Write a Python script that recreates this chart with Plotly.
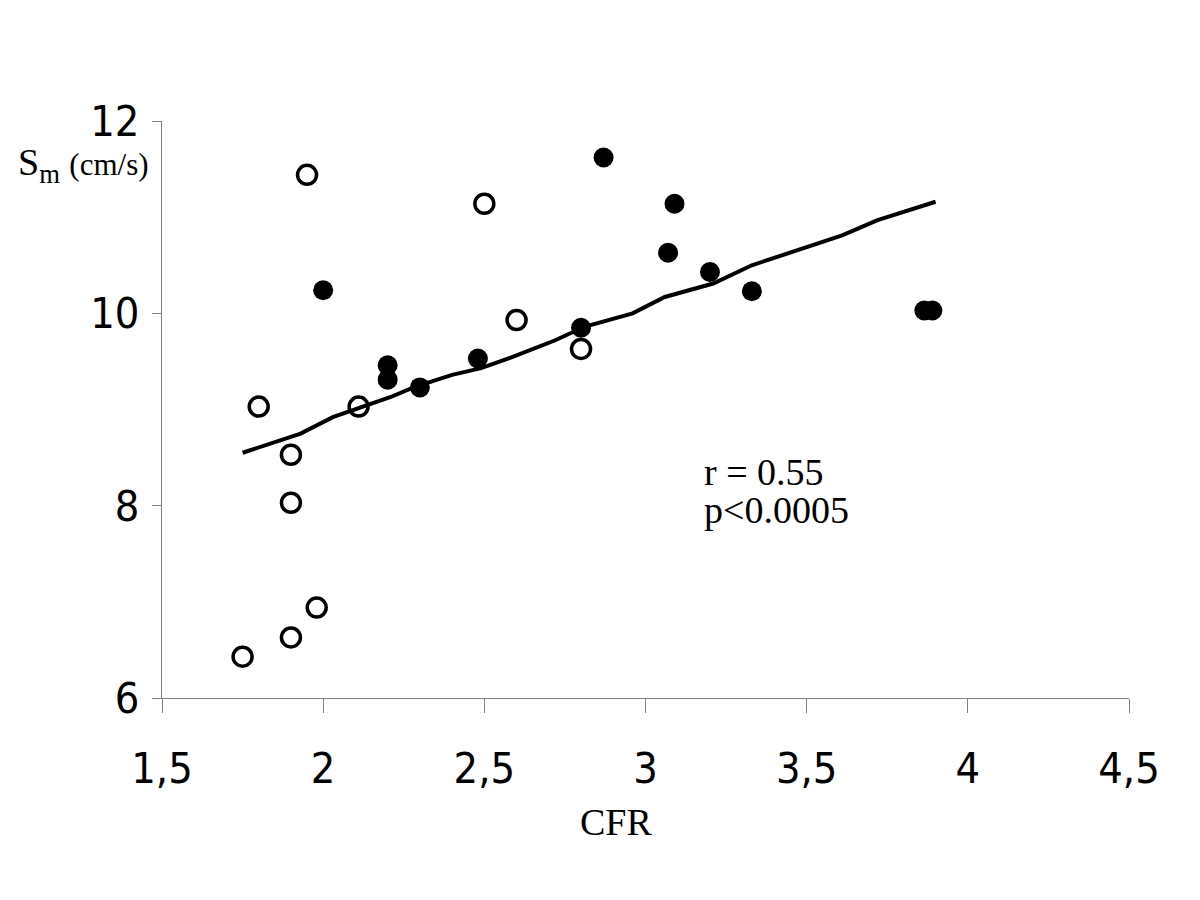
import plotly.graph_objects as go

# open circles
open_cfr = [1.75, 1.90, 1.98, 1.90, 1.90, 1.80, 2.11, 1.95, 2.50, 2.60, 2.80]
open_sm = [6.43, 6.63, 6.94, 8.03, 8.53, 9.03, 9.03, 11.44, 11.14, 9.93, 9.63]

# filled circles
filled_cfr = [2.00, 2.20, 2.20, 2.30, 2.48, 2.80, 2.87, 3.07, 3.09, 3.20, 3.33, 3.865, 3.89]
filled_sm = [10.24, 9.46, 9.31, 9.23, 9.53, 9.85, 11.62, 10.63, 11.14, 10.43, 10.23, 10.03, 10.03]

# trend line as drawn in the figure
line_cfr = [1.75, 1.93, 2.03, 2.12, 2.21, 2.28, 2.40, 2.49, 2.59, 2.72, 2.81,
            2.96, 3.06, 3.21, 3.33, 3.61, 3.72, 3.90]
line_sm = [8.55, 8.75, 8.92, 9.02, 9.13, 9.23, 9.36, 9.43, 9.55, 9.72, 9.86,
           10.00, 10.17, 10.31, 10.50, 10.81, 10.97, 11.16]

x_ticks = [1.5, 2, 2.5, 3, 3.5, 4, 4.5]
y_ticks = [6, 8, 10, 12]

serif = "Liberation Serif, Times New Roman, serif"
narrow = "DejaVu Sans Condensed, Liberation Sans Narrow, Arial Narrow, sans-serif"

fig = go.Figure()
fig.add_trace(go.Scatter(x=line_cfr, y=line_sm, mode="lines",
                         line=dict(color="black", width=4), hoverinfo="skip"))
fig.add_trace(go.Scatter(x=open_cfr, y=open_sm, mode="markers",
                         marker=dict(symbol="circle-open", size=19, color="black",
                                     line=dict(width=3.5, color="black"))))
fig.add_trace(go.Scatter(x=filled_cfr, y=filled_sm, mode="markers",
                         marker=dict(symbol="circle", size=20, color="black")))

# page body adds 8px, so margins are reduced to land the plot at the reference pixels
fig.update_layout(
    width=1200, height=900,
    margin=dict(l=154, r=79, t=113, b=210),
    plot_bgcolor="white", paper_bgcolor="white",
    showlegend=False,
    separators=", ",
    font=dict(family=narrow, color="black"),
)
fig.update_xaxes(range=[1.5, 4.5], tickvals=x_ticks, showgrid=False, zeroline=False,
                 showline=True, linecolor="#808080", linewidth=1,
                 ticks="outside", ticklen=14, tickcolor="#808080",
                 ticklabelstandoff=18,
                 tickfont=dict(family=narrow, size=43, color="black"))
fig.update_yaxes(range=[6, 12], tickvals=y_ticks, showgrid=False, zeroline=False,
                 showline=True, linecolor="#808080", linewidth=1,
                 ticks="outside", ticklen=9, tickcolor="#808080",
                 ticklabelstandoff=4,
                 tickfont=dict(family=narrow, size=43, color="black"))

fig.add_annotation(xref="paper", yref="paper", x=0.4695, y=-0.215,
                   text="CFR", showarrow=False, xanchor="center", yanchor="middle",
                   font=dict(family=serif, size=38, color="black"))
fig.add_annotation(xref="paper", yref="paper", x=-0.151, y=0.924,
                   text="S<sub>m</sub> <span style='font-size:31px'>(cm/s)</span>",
                   showarrow=False, xanchor="left", yanchor="middle",
                   font=dict(family=serif, size=38, color="black"))
fig.add_annotation(xref="paper", yref="paper", x=0.5585, y=0.392,
                   text="r = 0.55", showarrow=False, xanchor="left", yanchor="middle",
                   font=dict(family=serif, size=38, color="black"))
fig.add_annotation(xref="paper", yref="paper", x=0.5585, y=0.325,
                   text="p&lt;0.0005", showarrow=False, xanchor="left", yanchor="middle",
                   font=dict(family=serif, size=38, color="black"))

fig.write_html("out.html")
